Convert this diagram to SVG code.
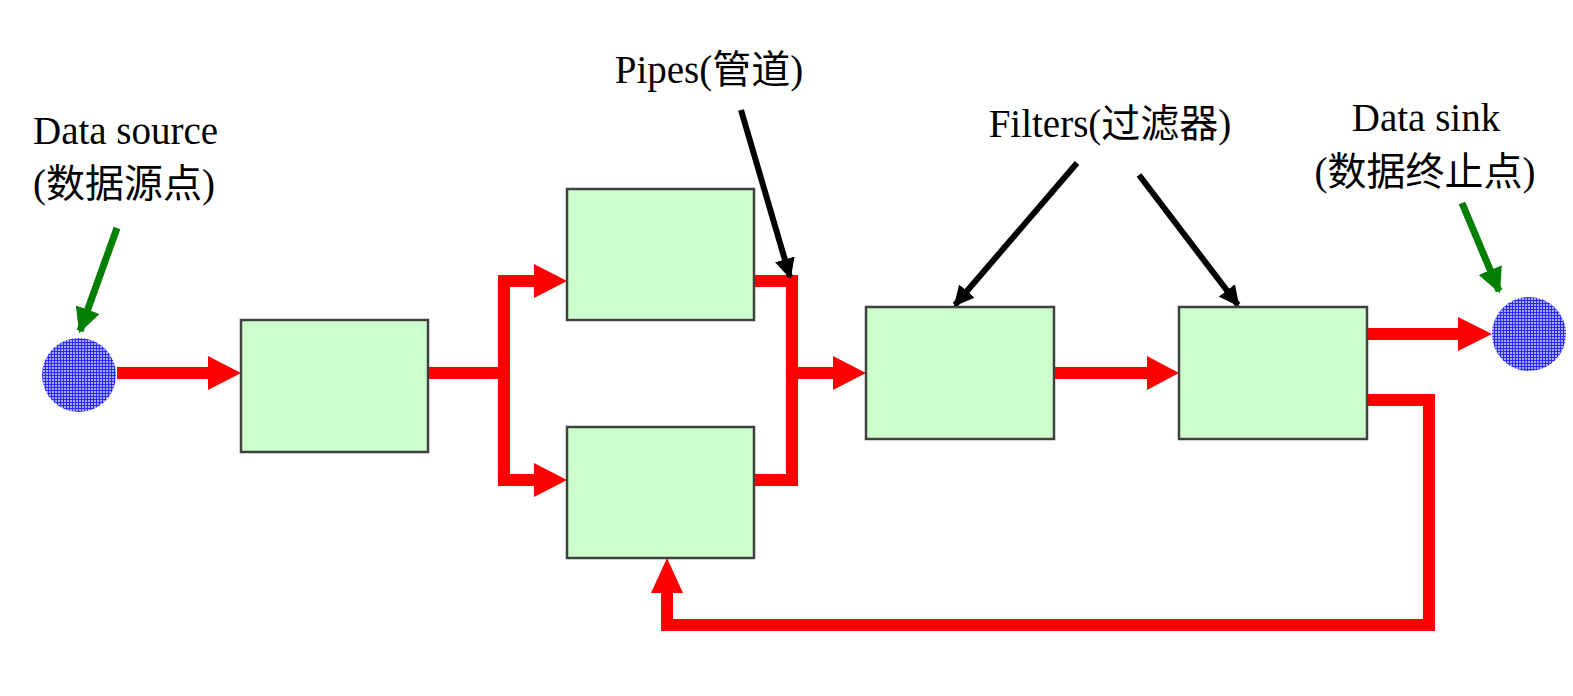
<svg xmlns="http://www.w3.org/2000/svg" width="1573" height="696" viewBox="0 0 1573 696">
<style>
.box{fill:#ccffcc;stroke:#404040;stroke-width:2.5}
.pipe{fill:none;stroke:#ff0000;stroke-width:12;stroke-linejoin:miter;stroke-linecap:butt}
.head{fill:#ff0000}
.blk{fill:none;stroke:#000;stroke-width:6}
.grn{fill:none;stroke:#007f00;stroke-width:7}
.lbl{font-family:"Liberation Serif","Noto Sans CJK SC",serif;font-size:39px;fill:#000}
.dot{fill:url(#grid)}
</style>
<defs>
<pattern id="grid" width="3" height="3" patternUnits="userSpaceOnUse">
<rect width="3" height="3" fill="#a8a8ff"/>
<rect width="1" height="3" fill="#2a2aff"/>
<rect width="3" height="1" fill="#2a2aff"/>
</pattern>
<marker id="ab" viewBox="0 0 10 10" refX="9" refY="5" markerWidth="3.4" markerHeight="3.4" orient="auto" markerUnits="strokeWidth">
<path d="M0,0 L10,5 L0,10 z" fill="#000"/>
</marker>
<marker id="ag" viewBox="0 0 10 10" refX="9" refY="5" markerWidth="3.6" markerHeight="3.6" orient="auto" markerUnits="strokeWidth">
<path d="M0,0 L10,5 L0,10 z" fill="#007f00"/>
</marker>
</defs>

<g id="labels">
<text class="lbl" x="33" y="144">Data source</text>
<text class="lbl" x="33" y="197">(数据源点)</text>
<text class="lbl" x="709" y="83" text-anchor="middle">Pipes(管道)</text>
<text class="lbl" x="1110" y="137" text-anchor="middle">Filters(过滤器)</text>
<text class="lbl" x="1426" y="131" text-anchor="middle">Data sink</text>
<text class="lbl" x="1425" y="185" text-anchor="middle">(数据终止点)</text>
</g>

<g id="connectors">
<line class="pipe" x1="117" y1="373" x2="210" y2="373"/>
<polygon class="head" points="208,356 241,373 208,390"/>

<polyline class="pipe" points="428,373 504,373"/>
<polyline class="pipe" points="536,281 504,281 504,480 536,480"/>
<polygon class="head" points="534,264 567,281 534,298"/>
<polygon class="head" points="534,463 567,480 534,497"/>

<polyline class="pipe" points="754,281 792,281 792,480 754,480"/>
<line class="pipe" x1="792" y1="373" x2="835" y2="373"/>
<polygon class="head" points="833,356 866,373 833,390"/>

<line class="pipe" x1="1054" y1="373" x2="1149" y2="373"/>
<polygon class="head" points="1147,356 1179,373 1147,390"/>

<line class="pipe" x1="1367" y1="334" x2="1460" y2="334"/>
<polygon class="head" points="1458,317 1492,334 1458,351"/>

<polyline class="pipe" points="1367,400 1429,400 1429,625 667,625 667,591"/>
<polygon class="head" points="651,593 683,593 667,558"/>

<line class="blk" x1="741" y1="110" x2="790" y2="277" marker-end="url(#ab)"/>
<line class="blk" x1="1077" y1="163" x2="955" y2="305" marker-end="url(#ab)"/>
<line class="blk" x1="1139" y1="175" x2="1238" y2="305" marker-end="url(#ab)"/>

<line class="grn" x1="117" y1="228" x2="80" y2="331" marker-end="url(#ag)"/>
<line class="grn" x1="1462" y1="203" x2="1499" y2="291" marker-end="url(#ag)"/>
</g>

<g id="source"><circle class="dot" cx="79" cy="375" r="37"/></g>
<g id="sink"><circle class="dot" cx="1529" cy="334" r="37"/></g>
<g id="filter1"><rect class="box" x="241" y="320" width="187" height="132"/></g>
<g id="filter2"><rect class="box" x="567" y="189" width="187" height="131"/></g>
<g id="filter3"><rect class="box" x="567" y="427" width="187" height="131"/></g>
<g id="filter4"><rect class="box" x="866" y="307" width="188" height="132"/></g>
<g id="filter5"><rect class="box" x="1179" y="307" width="188" height="132"/></g>
</svg>
